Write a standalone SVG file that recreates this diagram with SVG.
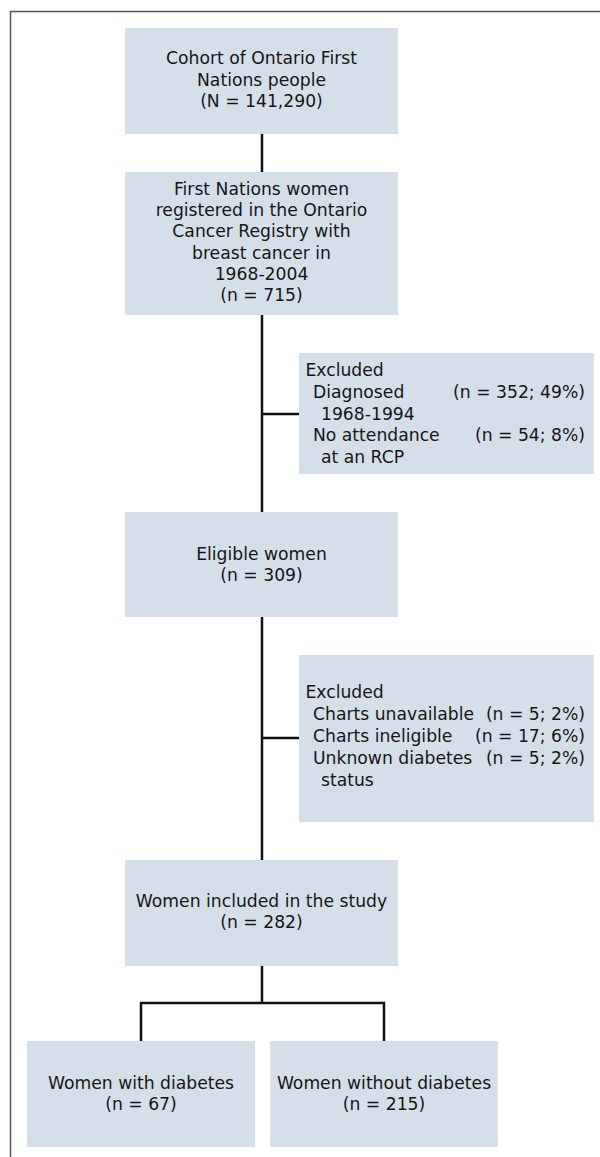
<svg xmlns="http://www.w3.org/2000/svg" width="600" height="1157" viewBox="0 0 600 1157">
<style>
.box{fill:#d5dfea;}
text{font-family:"DejaVu Sans","Liberation Sans",sans-serif;font-size:17.2px;fill:#161616;}
.c{text-anchor:middle;}
.r{text-anchor:end;}
.conn{stroke:#111;stroke-width:2.5;fill:none;}
.frame{stroke:#555;stroke-width:1.5;fill:none;}
</style>
<rect width="600" height="1157" fill="#fff"/>
<path class="frame" d="M600 11.5H10.5V1157"/>
<g id="connectors">
<path class="conn" d="M262 134V172"/>
<path class="conn" d="M262 315V512"/>
<path class="conn" d="M262 414H299"/>
<path class="conn" d="M262 617V860"/>
<path class="conn" d="M262 738H299"/>
<path class="conn" d="M262 966V1003"/>
<path class="conn" d="M141 1041V1003H384V1041"/>
</g>
<g id="cohort">
<rect class="box" x="125" y="28" width="273" height="106"/>
<text class="c" x="261.5" y="64">Cohort of Ontario First</text>
<text class="c" x="261.5" y="85.5">Nations people</text>
<text class="c" x="261.5" y="106.5">(N = 141,290)</text>
</g>
<g id="registered">
<rect class="box" x="125" y="172" width="273" height="143"/>
<text class="c" x="261.5" y="195">First Nations women</text>
<text class="c" x="261.5" y="216">registered in the Ontario</text>
<text class="c" x="261.5" y="237">Cancer Registry with</text>
<text class="c" x="261.5" y="258.5">breast cancer in</text>
<text class="c" x="261.5" y="279.5">1968-2004</text>
<text class="c" x="261.5" y="300.5">(n = 715)</text>
</g>
<g id="excluded1">
<rect class="box" x="299" y="353" width="295" height="121"/>
<text x="305.5" y="376">Excluded</text>
<text x="313" y="398">Diagnosed</text>
<text class="r" x="585" y="398">(n = 352; 49%)</text>
<text x="321" y="419.5">1968-1994</text>
<text x="313" y="441">No attendance</text>
<text class="r" x="585" y="441">(n = 54; 8%)</text>
<text x="321" y="463">at an RCP</text>
</g>
<g id="eligible">
<rect class="box" x="125" y="512" width="273" height="105"/>
<text class="c" x="261.5" y="560">Eligible women</text>
<text class="c" x="261.5" y="581">(n = 309)</text>
</g>
<g id="excluded2">
<rect class="box" x="299" y="655" width="295" height="167"/>
<text x="305.5" y="698">Excluded</text>
<text x="313" y="720">Charts unavailable</text>
<text class="r" x="585" y="720">(n = 5; 2%)</text>
<text x="313" y="742">Charts ineligible</text>
<text class="r" x="585" y="742">(n = 17; 6%)</text>
<text x="313" y="764">Unknown diabetes</text>
<text class="r" x="585" y="764">(n = 5; 2%)</text>
<text x="321" y="786">status</text>
</g>
<g id="included">
<rect class="box" x="125" y="860" width="273" height="106"/>
<text class="c" x="261.5" y="907">Women included in the study</text>
<text class="c" x="261.5" y="928">(n = 282)</text>
</g>
<g id="with-diabetes">
<rect class="box" x="27" y="1041" width="228" height="106"/>
<text class="c" x="141" y="1089">Women with diabetes</text>
<text class="c" x="141" y="1110">(n = 67)</text>
</g>
<g id="without-diabetes">
<rect class="box" x="270" y="1041" width="228" height="106"/>
<text class="c" x="384" y="1089">Women without diabetes</text>
<text class="c" x="384" y="1110">(n = 215)</text>
</g>
</svg>
